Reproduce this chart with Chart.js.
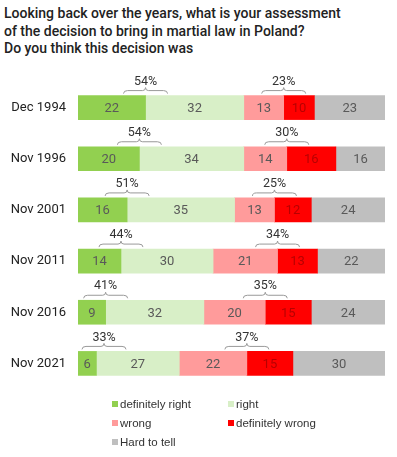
<!DOCTYPE html>
<html>
<head>
<meta charset="utf-8">
<script src="https://cdn.jsdelivr.net/npm/chart.js@4"></script>
<style>
  body { margin: 0; background: #fff; }
  #wrap { position: relative; width: 397px; height: 457px; }
  #title {
    position: absolute; left: 4px; top: 5px;
    font-family: Roboto, sans-serif; font-weight: 500; font-size: 14px;
    line-height: 17.5px; color: #222;
  }
  #legend {
    position: absolute; left: 112px; top: 398px; width: 240px;
    display: grid; grid-template-columns: 116px 124px; row-gap: 7px;
    font-family: "Liberation Sans", sans-serif; font-size: 11.5px; color: #333;
  }
  #legend span.sq { display: inline-block; width: 6px; height: 6px; margin-right: 2px; vertical-align: 1px; }
  canvas { position: absolute; left: 0; top: 0; }
</style>
</head>
<body>
<div id="wrap">
  <div id="title">Looking back over the years, what is your assessment<br>of the decision to bring in martial law in Poland?<br>Do you think this decision was</div>
  <canvas id="chart" width="397" height="457"></canvas>
  <div id="legend"></div>
</div>
<script>
// Dane
const waves = ["Dec 1994", "Nov 1996", "Nov 2001", "Nov 2011", "Nov 2016", "Nov 2021"]
const seriesNames = ["definitely right", "right", "wrong", "definitely wrong", "Hard to tell"]
const seriesColors = ["#92d050", "#d8efc7", "#ff9b9b", "#ff0000", "#bfbfbf"]
const definitelyRight = [22, 20, 16, 14, 9, 6]
const right = [32, 34, 35, 30, 32, 27]
const wrong = [13, 14, 13, 21, 20, 22]
const definitelyWrong = [10, 16, 12, 13, 15, 15]
const hardToTell = [23, 16, 24, 22, 24, 30]
const rightTotals = ["54%", "54%", "51%", "44%", "41%", "33%"]
const wrongTotals = ["23%", "30%", "25%", "34%", "35%", "37%"]

const seriesValues = [definitelyRight, right, wrong, definitelyWrong, hardToTell]

// Legenda em HTML
const legend = document.getElementById("legend")
seriesNames.forEach((name, i) => {
  const item = document.createElement("div")
  item.innerHTML = `<span class="sq" style="background:${seriesColors[i]}"></span>${name}`
  legend.appendChild(item)
})

// Valores dentro das barras
const valueLabels = {
  id: "valueLabels",
  afterDatasetsDraw(chart) {
    const ctx = chart.ctx
    ctx.save()
    ctx.font = "13px Roboto, sans-serif"
    ctx.textAlign = "center"
    ctx.textBaseline = "middle"
    chart.data.datasets.forEach((ds, di) => {
      chart.getDatasetMeta(di).data.forEach((bar, i) => {
        ctx.fillStyle = di === 3 ? "#b80000" : "#595959"
        ctx.fillText(ds.data[i], (bar.x + bar.base) / 2, bar.y + 1)
      })
    })
    ctx.restore()
  },
}

// Chavetas com os totais
function drawBrace(ctx, cx, y, half) {
  const h = 5
  ctx.beginPath()
  ctx.moveTo(cx - half, y + h)
  ctx.quadraticCurveTo(cx - half, y + 2, cx - half + 4, y + 2)
  ctx.lineTo(cx - 3, y + 2)
  ctx.quadraticCurveTo(cx, y + 2, cx, y - 1)
  ctx.quadraticCurveTo(cx, y + 2, cx + 3, y + 2)
  ctx.lineTo(cx + half - 4, y + 2)
  ctx.quadraticCurveTo(cx + half, y + 2, cx + half, y + h)
  ctx.stroke()
}

const braces = {
  id: "braces",
  afterDatasetsDraw(chart) {
    const ctx = chart.ctx
    const x = chart.scales.x
    const meta = chart.getDatasetMeta(0)
    const half = 22
    ctx.save()
    ctx.strokeStyle = "#999"
    ctx.lineWidth = 1
    ctx.fillStyle = "#333"
    ctx.font = "12.5px Roboto, sans-serif"
    ctx.textAlign = "center"
    ctx.textBaseline = "middle"
    meta.data.forEach((bar, i) => {
      const top = bar.y - bar.height / 2
      let c1 = x.getPixelForValue(definitelyRight[i])
      c1 = Math.max(c1, chart.chartArea.left + 4 + half)
      const c2 = x.getPixelForValue(definitelyRight[i] + right[i] + wrong[i])
      ;[[c1, rightTotals[i]], [c2, wrongTotals[i]]].forEach(([cx, txt]) => {
        drawBrace(ctx, cx, top - 7, half)
        ctx.fillText(txt, cx, top - 14)
      })
    })
    ctx.restore()
  },
}

const ctx = document.getElementById("chart").getContext("2d")
new Chart(ctx, {
  type: "bar",
  data: {
    labels: waves,
    datasets: seriesNames.map((name, i) => ({
      label: name,
      data: seriesValues[i],
      backgroundColor: seriesColors[i],
      borderWidth: 0,
      barThickness: 24,
    })),
  },
  options: {
    indexAxis: "y",
    responsive: false,
    animation: false,
    layout: { padding: { top: 82, bottom: 68, right: 12, left: 0 } },
    plugins: {
      legend: { display: false },
      tooltip: { enabled: false },
    },
    scales: {
      x: { stacked: true, display: false, min: 0, max: 100 },
      y: {
        stacked: true,
        grid: { display: false, drawTicks: false },
        border: { display: false },
        afterFit: (scale) => { scale.width = 78 },
        ticks: {
          padding: 12,
          color: "#222",
          font: { family: "Roboto, sans-serif", size: 13 },
        },
      },
    },
  },
  plugins: [valueLabels, braces],
})
</script>
</body>
</html>
